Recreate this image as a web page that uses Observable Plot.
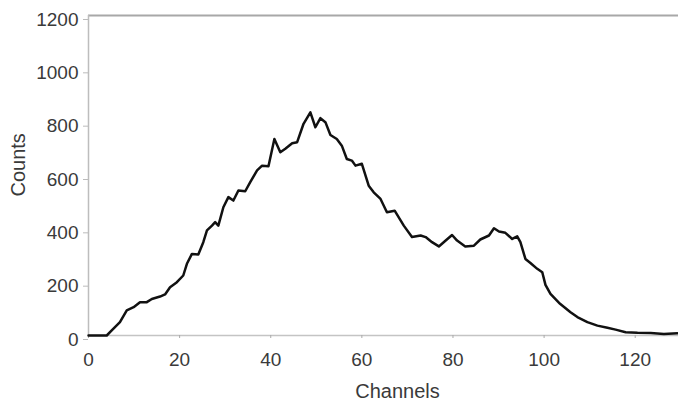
<!DOCTYPE html>
<html>
<head>
<meta charset="utf-8">
<script src="https://cdn.jsdelivr.net/npm/d3@7"></script>
<script src="https://cdn.jsdelivr.net/npm/@observablehq/plot@0.6"></script>
<style>
  html, body { margin: 0; padding: 0; background: #fff; }
  #chart svg { display: block; }
</style>
</head>
<body>
<div id="chart"></div>
<script>
const channels = [0, 2, 4, 5.1, 6.9, 8.4, 9.9, 11.3, 12.8, 13.9, 15.7, 16.8, 17.9, 19.4, 20.8, 21.6, 22.7, 24.1, 25.2, 26,
  27.1, 27.8, 28.5, 29.6, 30.7, 31.8, 32.9, 34.4, 35.5, 37, 38.1, 39.5, 40.8, 42.1, 43.2, 44.7, 45.8, 47.2, 48.7, 49.8,
  50.9, 52, 53.1, 54.5, 55.6, 56.7, 57.8, 58.6, 60, 61.5, 62.6, 64.1, 65.5, 67.2, 69.2, 71, 72.9, 74, 75.4, 76.9,
  78.4, 79.8, 80.9, 82.7, 84.6, 86, 87.9, 89, 90.1, 91.5, 93, 94.1, 94.8, 95.9, 97, 98.5, 99.6, 100.3, 101.4, 103.5,
  105.8, 107.3, 109.5, 111.7, 113.9, 115.7, 117.9, 120.5, 123.4, 126.3, 129.3];
const counts = [0, 0, 0, 19, 50, 94, 106, 125, 125, 137, 146, 154, 181, 200, 225, 269, 306, 304, 350, 394,
  412, 425, 412, 481, 519, 506, 544, 541, 575, 619, 637, 635, 737, 687, 700, 721, 725, 794, 837, 781,
  815, 800, 752, 737, 712, 662, 656, 637, 644, 562, 537, 512, 462, 468, 412, 369, 375, 369, 350, 334,
  356, 377, 356, 334, 337, 360, 375, 402, 390, 385, 362, 372, 350, 287, 272, 250, 237, 190, 156, 119,
  87, 69, 50, 37, 29, 22, 12, 10, 9, 6, 8];
const xTicks = [0, 20, 40, 60, 80, 100, 120];
const yTicks = [0, 200, 400, 600, 800, 1000, 1200];
const xLabel = "Channels";
const yLabel = "Counts";

const data = channels.map((c, i) => ({channel: c, count: counts[i]}));

const font = "'Liberation Sans', Arial, Helvetica, sans-serif";
const fmt = d => String(d);

const chart = Plot.plot({
  width: 678,
  height: 403,
  marginLeft: 88,
  marginRight: 0,
  marginTop: 15,
  marginBottom: 68,
  style: {fontFamily: font, fontSize: "19px", color: "#3a3a3a", background: "#fff"},
  x: {domain: [0, 129.5]},
  y: {domain: [0, 1200]},
  marks: [
    Plot.ruleY([yTicks[yTicks.length - 1]], {stroke: "#a8a8a8", strokeWidth: 2}),
    Plot.ruleX([xTicks[0]], {stroke: "#bdbdbd", strokeWidth: 1.5}),
    Plot.ruleY([yTicks[0]], {stroke: "#c4c4c4", strokeWidth: 1.5}),
    Plot.axisX({ticks: xTicks, tickFormat: fmt, tickSize: 3, tickPadding: 14, stroke: "#aaa", label: null, fontSize: 19}),
    Plot.axisY({ticks: yTicks, tickFormat: fmt, tickSize: 5, tickPadding: 5, stroke: "#bbb", label: null, dy: 4, fontSize: 19}),
    Plot.text([xLabel], {frameAnchor: "bottom", dx: 14, dy: 62, fontSize: 20, fill: "#3a3a3a"}),
    Plot.text([yLabel], {frameAnchor: "left", rotate: -90, dx: -70, dy: 21, fontSize: 20, fill: "#3a3a3a"}),
    Plot.line(data, {x: "channel", y: "count", stroke: "#111", strokeWidth: 2.5, strokeLinejoin: "round"})
  ]
});
document.getElementById("chart").appendChild(chart);
</script>
</body>
</html>
